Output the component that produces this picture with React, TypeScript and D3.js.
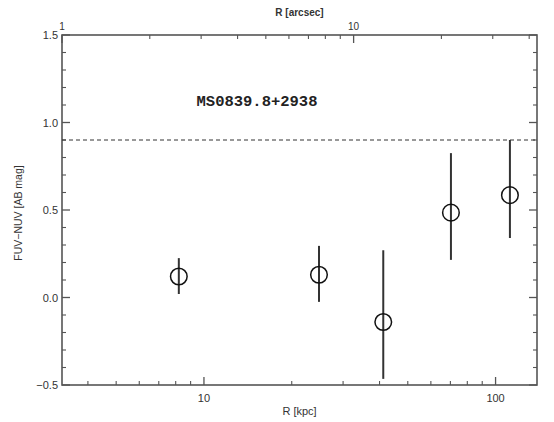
import React from 'react';
import * as d3 from 'd3';

// FUV-NUV colour profile of MS0839.8+2938
const R_KPC = [8.2, 24.8, 41.2, 70.3, 112];
const COLOR = [0.12, 0.13, -0.14, 0.485, 0.585];
const ERR_LO = [0.02, -0.025, -0.465, 0.215, 0.34];
const ERR_HI = [0.225, 0.295, 0.27, 0.825, 0.9];

const REF_LINE = 0.9;
const KPC_PER_ARCSEC = 3.26;

const Y_MAJOR = [-0.5, 0.0, 0.5, 1.0, 1.5];
const KPC_MAJOR = [10, 100];
const KPC_MINOR = [4, 5, 6, 7, 8, 9, 20, 30, 40, 50, 60, 70, 80, 90];
const AS_MAJOR = [1, 10];
const AS_MINOR = [2, 3, 4, 5, 6, 7, 8, 9, 20, 30, 40];

const W = 554;
const H = 422;
const L = 62, R = 537, T = 35, B = 385;

const AXIS = '#555';
const TXT = '#333';
const SANS = 'Liberation Sans, Arial, sans-serif';

export default function App() {
  const x = d3.scaleLog().domain([3.26, 138.7]).range([L, R]);
  const xa = d3.scaleLog().domain([3.26 / KPC_PER_ARCSEC, 138.7 / KPC_PER_ARCSEC]).range([L, R]);
  const y = d3.scaleLinear().domain([-0.5, 1.5]).range([B, T]);
  const yMinor = d3.range(-5, 16).map(d => d / 10).filter(v => !Y_MAJOR.some(m => Math.abs(m - v) < 1e-6));

  const maj = 8;
  const mnr = 4;

  return (
    <svg width={W} height={H} style={{ position: 'absolute', left: 0, top: 0, background: '#fff' }}>
      {/* frame */}
      <rect x={L} y={T} width={R - L} height={B - T} fill="none" stroke={AXIS} strokeWidth={1.6} />

      {/* bottom ticks (kpc) */}
      {KPC_MAJOR.map(v => (
        <g key={'bk' + v}>
          <line x1={x(v)} x2={x(v)} y1={B} y2={B - maj} stroke={AXIS} strokeWidth={1.3} />
          <text x={x(v)} y={B + 17} textAnchor="middle" fontFamily={SANS} fontSize={11} fill={TXT}>{v}</text>
        </g>
      ))}
      {KPC_MINOR.map(v => (
        <line key={'bm' + v} x1={x(v)} x2={x(v)} y1={B} y2={B - mnr} stroke={AXIS} strokeWidth={1.1} />
      ))}
      <text x={(L + R) / 2} y={B + 30} textAnchor="middle" fontFamily={SANS} fontSize={11} fill={TXT}>R [kpc]</text>

      {/* top ticks (arcsec) */}
      {AS_MAJOR.map(v => (
        <g key={'tk' + v}>
          <line x1={xa(v)} x2={xa(v)} y1={T} y2={T + maj} stroke={AXIS} strokeWidth={1.3} />
          <text x={xa(v)} y={T - 5} textAnchor="middle" fontFamily={SANS} fontSize={10} fill={TXT}>{v}</text>
        </g>
      ))}
      {AS_MINOR.map(v => (
        <line key={'tm' + v} x1={xa(v)} x2={xa(v)} y1={T} y2={T + mnr} stroke={AXIS} strokeWidth={1.1} />
      ))}
      <text x={(L + R) / 2} y={T - 19} textAnchor="middle" fontFamily={SANS} fontSize={10} fontWeight="bold" fill={TXT}>R [arcsec]</text>

      {/* left / right ticks */}
      {Y_MAJOR.map(v => (
        <g key={'ly' + v}>
          <line x1={L} x2={L + maj} y1={y(v)} y2={y(v)} stroke={AXIS} strokeWidth={1.3} />
          <line x1={R} x2={R - maj} y1={y(v)} y2={y(v)} stroke={AXIS} strokeWidth={1.3} />
          <text x={L - 4} y={y(v) + 4} textAnchor="end" fontFamily={SANS} fontSize={11} fill={TXT}>{d3.format('.1f')(v).replace('-', '\u2212')}</text>
        </g>
      ))}
      {yMinor.map(v => (
        <g key={'lm' + v}>
          <line x1={L} x2={L + mnr} y1={y(v)} y2={y(v)} stroke={AXIS} strokeWidth={1.1} />
          <line x1={R} x2={R - mnr} y1={y(v)} y2={y(v)} stroke={AXIS} strokeWidth={1.1} />
        </g>
      ))}
      <text transform={`translate(22,${(T + B) / 2 + 3}) rotate(-90)`} textAnchor="middle" fontFamily={SANS} fontSize={10.5} fill={TXT}>FUV−NUV [AB mag]</text>

      {/* reference line */}
      <line x1={L} x2={R} y1={y(REF_LINE)} y2={y(REF_LINE)} stroke="#333" strokeWidth={1} strokeDasharray="4,3" />

      {/* title */}
      <text x={257} y={106} textAnchor="middle" fontFamily="Liberation Mono, Courier New, monospace" fontWeight="bold" fontSize={15.5} fill="#222">MS0839.8+2938</text>

      {/* error bars and points */}
      {R_KPC.map((r, i) => (
        <g key={'p' + i}>
          <line x1={x(r)} x2={x(r)} y1={y(ERR_LO[i])} y2={y(ERR_HI[i])} stroke="#333" strokeWidth={2} />
          <circle cx={x(r)} cy={y(COLOR[i])} r={8.3} fill="none" stroke="#111" strokeWidth={1.5} />
        </g>
      ))}
    </svg>
  );
}
